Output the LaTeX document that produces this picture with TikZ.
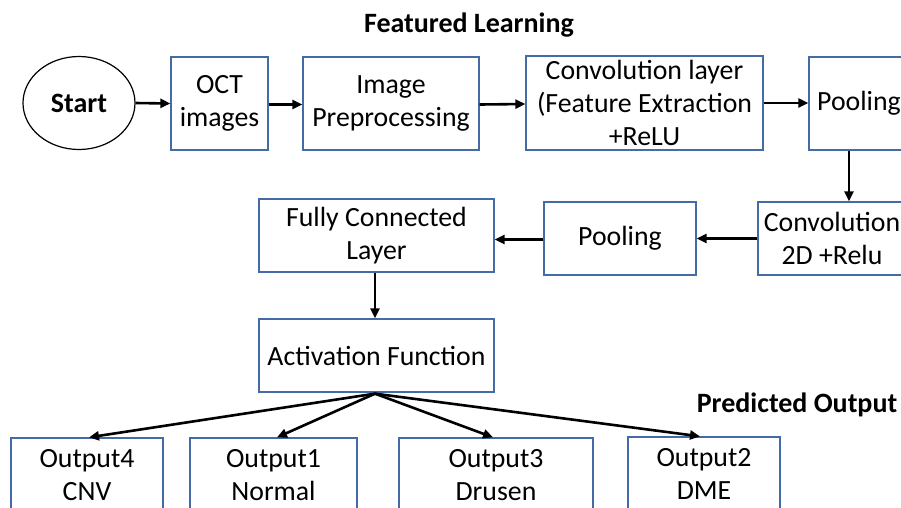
\documentclass[tikz,border=0pt]{standalone}
\usepackage{fontspec}
\setmainfont{Carlito}
\usetikzlibrary{arrows.meta,shapes.geometric}
\definecolor{boxblue}{RGB}{68,106,168}
\begin{document}
\begin{tikzpicture}[x=1pt,y=-1pt,
  box/.style={draw=boxblue,line width=1.3pt,rectangle,align=center,inner sep=0pt,font=\fontsize{27.8}{33}\selectfont},
  arr/.style={draw=black,line width=2.6pt,-{Triangle[length=10pt,width=9pt]}},
  titletext/.style={font=\fontsize{28}{33}\selectfont\bfseries}]
\useasboundingbox (0,0) rectangle (901,507);
\clip (0,0) rectangle (901,507);
\fill[white] (0,0) rectangle (901,507);

\node[titletext] (t1) at (469,25) {Featured Learning};
\node[titletext] (t2) at (797,405) {Predicted Output};

\node[draw=black,line width=1.2pt,ellipse,minimum width=112pt,minimum height=93pt,inner sep=0pt,font=\fontsize{28}{33}\selectfont\bfseries] (start) at (79,103) {Start};
\node[box,minimum width=97pt,minimum height=93pt] (oct) at (219.5,103.5) {OCT\\images};
\node[box,minimum width=176pt,minimum height=93pt] (prep) at (391,103.5) {Image\\Preprocessing};
\node[box,minimum width=237pt,minimum height=94pt] (conv) at (644.5,103) {Convolution layer\\(Feature Extraction\\+ReLU};
\node[box,minimum width=100pt,minimum height=93pt] (pool1) at (859,103.5) {Pooling};
\node[box,minimum width=148pt,minimum height=73pt] (conv2) at (832,238.5) {Convolution\\2D +Relu};
\node[box,minimum width=152pt,minimum height=73pt] (pool2) at (620,238.5) {Pooling};
\node[box,minimum width=235pt,minimum height=73pt] (fc) at (376.5,235.5) {Fully Connected\\Layer};
\node[box,minimum width=235pt,minimum height=73pt] (act) at (376.5,355.5) {Activation Function};

\node[box,minimum width=152pt,minimum height=74pt] (out4) at (87,475) {Output4\\CNV};
\node[box,minimum width=167pt,minimum height=74pt] (out1) at (273.5,475) {Output1\\Normal};
\node[box,minimum width=194pt,minimum height=74pt] (out3) at (496,475) {Output3\\Drusen};
\node[box,minimum width=152pt,minimum height=74pt] (out2) at (704,474) {Output2\\DME};

\draw[arr] (start.east) -- (oct.west);
\draw[arr] ([yshift=-1pt]oct.east) -- ([yshift=-1pt]prep.west);
\draw[arr] ([yshift=-1pt]prep.east) -- ([yshift=-1pt]conv.west);
\draw[arr] (conv.east) -- (conv.east -| pool1.west);
\draw[arr] ([xshift=-10pt]pool1.south) -- ([xshift=-10pt]pool1.south |- conv2.north);
\draw[arr] (conv2.west) -- (pool2.east);
\draw[arr] ([yshift=-1pt]pool2.west) -- ([yshift=-1pt]pool2.west -| fc.east);
\draw[arr] ([xshift=-1.5pt]fc.south) -- ([xshift=-1.5pt]act.north);
\coordinate (hub) at ([xshift=-1.5pt,yshift=-1pt]act.south);
\draw[arr] (hub) -- ([xshift=2pt]out4.north);
\draw[arr] (hub) -- ([xshift=3.5pt]out1.north);
\draw[arr] (hub) -- ([xshift=-3pt]out3.north);
\draw[arr] (hub) -- ([xshift=-4pt]out2.north);
\end{tikzpicture}
\end{document}
